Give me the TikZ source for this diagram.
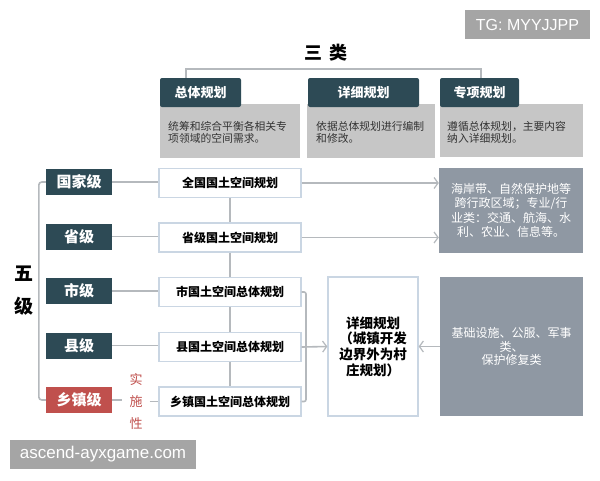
\documentclass[tikz,border=0pt]{standalone}
\usepackage{fontspec}
\newfontfamily\cjk{Noto Sans CJK SC}
\newfontfamily\lat{Liberation Sans}
\usetikzlibrary{arrows.meta}
\definecolor{hdrcol}{HTML}{2D4A55}
\definecolor{redcol}{HTML}{C0504D}
\definecolor{desccol}{HTML}{C6C6C6}
\definecolor{desctxt}{HTML}{333333}
\definecolor{rightcol}{HTML}{8F98A3}
\definecolor{linecol}{HTML}{B5B9BD}
\definecolor{plancol}{HTML}{CAD6E3}
\definecolor{wmcol}{HTML}{A5A5A5}
\begin{document}
\begin{tikzpicture}[x=1pt,y=-1pt,
  every node/.style={inner sep=0pt, font=\cjk},
  conn/.style={draw=linecol, line width=1.6pt},
  arr/.style={conn, -{Straight Barb[length=4pt,width=11pt,line width=1.2pt]}},
  hdr/.style={fill=hdrcol, text=white, font=\cjk\bfseries\fontsize{13}{15}\selectfont, rounded corners=2pt, minimum height=29pt},
  descbox/.style={fill=desccol},
  desctext/.style={anchor=west, align=left, text=desctxt, font=\cjk\fontsize{10.8}{12}\selectfont},
  lvl/.style={fill=hdrcol, text=white, font=\cjk\bfseries\fontsize{15}{17}\selectfont, minimum width=66pt, minimum height=26pt},
  plan/.style={draw=plancol, line width=1.3pt, fill=white, font=\cjk\bfseries\fontsize{12}{14}\selectfont, minimum width=142pt, minimum height=29pt},
  graybox/.style={fill=rightcol, text=white, align=center},
  wm/.style={fill=wmcol, text=white, minimum height=29pt},
]
\useasboundingbox (0,0) rectangle (600,480);
\fill[white] (0,0) rectangle (600,480);

% title and bracket
\node[font=\cjk\bfseries\fontsize{18}{20}\selectfont] (title) at (326,53) {三\hspace{7pt}类};
\coordinate (bl) at (186,78);
\coordinate (br) at (481,78);
\draw[draw=linecol, line width=1.4pt] (bl) -- ++(0,-9) -| (br);

% three categories
\node[descbox, minimum width=140pt, minimum height=54pt] (d1) at (230,131) {};
\node[descbox, minimum width=128pt, minimum height=54pt] (d2) at (371,131) {};
\node[descbox, minimum width=143pt, minimum height=53pt] (d3) at (511.5,130.5) {};
\node[hdr, minimum width=81pt] (h1) at (200.5,92.5) {总体规划};
\node[hdr, minimum width=111pt] (h2) at (363.5,92.5) {详细规划};
\node[hdr, minimum width=79pt] (h3) at (479.5,92.5) {专项规划};
\node[desctext] (t1) at (168,132.5) {统筹和综合平衡各相关专\\项领域的空间需求。};
\node[desctext] (t2) at (316,132.5) {依据总体规划进行编制\\和修改。};
\node[desctext] (t3) at (447,132.5) {遵循总体规划，主要内容\\纳入详细规划。};

% five levels
\node[font=\cjk\bfseries\fontsize{19}{33}\selectfont, align=center] (wj) at (24,291) {五\\级};
\node[lvl] (guo) at (79,182) {国家级};
\node[lvl] (sheng) at (79,236.5) {省级};
\node[lvl] (shi) at (79,291) {市级};
\node[lvl] (xian) at (79,345.5) {县级};
\node[lvl, fill=redcol] (xiang) at (79,400) {乡镇级};
\draw[conn, rounded corners=3pt] (guo.west) -- ++(-7,0) |- (xiang.west);

% plans
\node[plan] (p1) at (230,183) {全国国土空间规划};
\node[plan] (p2) at (230,237.5) {省级国土空间规划};
\node[plan] (p3) at (230,292) {市国土空间总体规划};
\node[plan] (p4) at (230,347) {县国土空间总体规划};
\node[plan] (p5) at (230,401.5) {乡镇国土空间总体规划};
\node[text=redcol, font=\cjk\fontsize{13}{22}\selectfont, align=center, inner xsep=7pt] (ss) at (136,402) {实\\施\\性};

\draw[conn] (guo.east) -- (guo.east -| p1.west);
\draw[conn] (sheng.east) -- (sheng.east -| p2.west);
\draw[conn] (shi.east) -- (shi.east -| p3.west);
\draw[conn] (xian.east) -- (xian.east -| p4.west);
\draw[conn] (xiang.east) -- (xiang.east -| ss.west);
\draw[conn] (ss.east |- p5.west) -- (p5.west);
\draw[conn] (p1) -- (p2);
\draw[conn] (p2) -- (p3);
\draw[conn] (p3) -- (p4);
\draw[conn] (p4) -- (p5);

% detail plan and right boxes
\node[plan, minimum width=90pt, minimum height=139pt, align=center, font=\cjk\bfseries\fontsize{13.5}{15.7}\selectfont] (xx) at (373,346.5) {详细规划\\（城镇开发\\边界外为村\\庄规划）};
\node[graybox, minimum width=144pt, minimum height=85pt, font=\cjk\fontsize{12}{14.5}\selectfont] (g1) at (511,210.5) {海岸带、自然保护地等\\跨行政区域；专业/行\\业类：交通、航海、水\\利、农业、信息等。};
\node[graybox, minimum width=143pt, minimum height=139pt, font=\cjk\fontsize{12}{13.5}\selectfont] (g2) at (511.5,346.5) {基础设施、公服、军事\\类、\\保护修复类};

\coordinate (brk) at (306,347);
\draw[conn, rounded corners=2pt] (p3.east) -| (brk) |- (p5.east);
\draw[arr] (p1.east) -- (p1.east -| g1.west);
\draw[arr] (p2.east) -- (p2.east -| g1.west);
\draw[arr] (p4.east) -- (xx.west);
\draw[arr] (g2.west) -- (xx.east);

% watermarks
\node[wm, minimum width=125pt, font=\lat\fontsize{16}{18}\selectfont] (tg) at (527.5,24.5) {TG: MYYJJPP};
\node[wm, minimum width=186pt, font=\lat\fontsize{17}{19}\selectfont] (asc) at (103,454.5) {ascend-ayxgame.com};
\end{tikzpicture}
\end{document}
